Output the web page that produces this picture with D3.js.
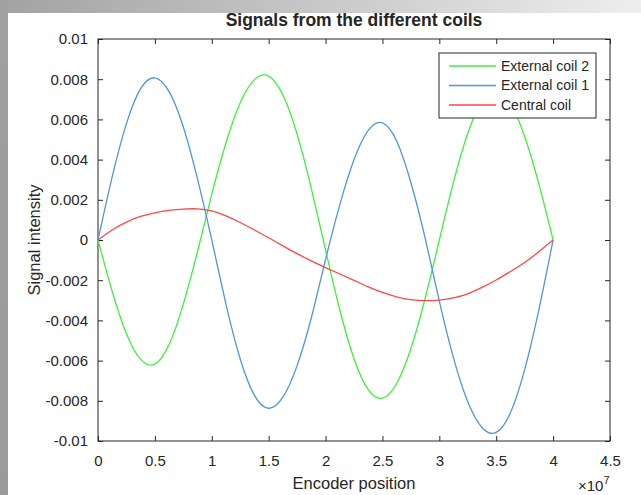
<!DOCTYPE html>
<html lang="en">
<head>
<meta charset="utf-8">
<title>Signals from the different coils</title>
<script src="https://d3js.org/d3.v7.min.js"></script>
<style>
    body { margin: 0; background: #fff; }
    svg text { font-family: "Liberation Sans", Arial, sans-serif; fill: #262626; }
    .frame { fill: none; stroke: #262626; stroke-width: 1; }
    .tick line { stroke: #262626; }
    path.line { fill: none; stroke-width: 1.3; }
</style>
</head>
<body>
<div id="divChart"></div>
<script>

// encoder position, in units of 1e7
const pos = [0, 0.125, 0.25, 0.375, 0.5, 0.625, 0.75, 0.875, 1, 1.125, 1.25, 1.375, 1.5, 1.625, 1.75, 1.875,
             2, 2.125, 2.25, 2.375, 2.5, 2.625, 2.75, 2.875, 3, 3.125, 3.25, 3.375, 3.5, 3.625, 3.75, 3.875, 4];

const ext2 = [0, -0.00256, -0.00466, -0.00594, -0.00617, -0.00520, -0.00319, -0.00056,
              0.00228, 0.00484, 0.00683, 0.00798, 0.00815, 0.00721, 0.00526, 0.00256,
              -0.0005, -0.00347, -0.00591, -0.00745, -0.00787, -0.00714, -0.00540, -0.00291,
              0, 0.00289, 0.00531, 0.00690, 0.0074, 0.00677, 0.00515, 0.00278, 0];

const ext1 = [0, 0.00315, 0.00579, 0.00753, 0.00807, 0.00738, 0.00562, 0.00303,
              0, -0.00320, -0.00592, -0.00773, -0.00837, -0.00782, -0.00625, -0.00387,
              -0.00097, 0.00175, 0.00399, 0.00545, 0.00583, 0.00493, 0.00286, 0.0001,
              -0.00304, -0.00588, -0.00805, -0.00933, -0.00957, -0.00859, -0.00645, -0.00346, 0];

const central = [0, 0.00050, 0.00089, 0.00117, 0.00135, 0.00147, 0.00154, 0.00155,
                 0.00145, 0.00120, 0.00087, 0.00050, 0.00011, -0.00029, -0.00068, -0.00104,
                 -0.00137, -0.00169, -0.00201, -0.00233, -0.00261, -0.00283, -0.00297, -0.00302,
                 -0.00299, -0.00288, -0.00268, -0.00236, -0.00199, -0.00157, -0.00112, -0.00058, 0];

const seriesNames = ["External coil 2", "External coil 1", "Central coil"];
const seriesColors = ["#3cf23c", "#4f97d6", "#ff4646"];

const xTicks = [0, 0.5, 1, 1.5, 2, 2.5, 3, 3.5, 4, 4.5];
const yTicks = [-0.01, -0.008, -0.006, -0.004, -0.002, 0, 0.002, 0.004, 0.006, 0.008, 0.01];

var W = 641, H = 495;
var margin = {top: 39, right: 31, bottom: 54, left: 98};
var width = W - margin.left - margin.right,
    height = H - margin.top - margin.bottom;

var svg = d3.select("#divChart").append("svg")
    .attr("width", W)
    .attr("height", H);

// screenshot edges (grey strips)
var defs = svg.append("defs");
var gTop = defs.append("linearGradient").attr("id", "gTop");
gTop.append("stop").attr("offset", "0%").attr("stop-color", "#a2a2a2");
gTop.append("stop").attr("offset", "100%").attr("stop-color", "#eeeeee");
var gLeft = defs.append("linearGradient").attr("id", "gLeft")
    .attr("x1", 0).attr("y1", 0).attr("x2", 0).attr("y2", 1);
gLeft.append("stop").attr("offset", "0%").attr("stop-color", "#a0a0a0");
gLeft.append("stop").attr("offset", "100%").attr("stop-color", "#9a9a9a");

svg.append("rect").attr("x", 0).attr("y", 0).attr("width", W).attr("height", 13).attr("fill", "url(#gTop)");
svg.append("rect").attr("x", 0).attr("y", 0).attr("width", 8).attr("height", H).attr("fill", "url(#gLeft)");

var g = svg.append("g")
    .attr("transform", "translate(" + margin.left + "," + margin.top + ")");

var x = d3.scaleLinear().domain([0, 4.5]).range([0, width]);
var y = d3.scaleLinear().domain([-0.01, 0.01]).range([height, 0]);

var fmt = d => d === 0 ? "0" : String(+d.toFixed(3));

// axes (ticks inside, like the box style)
g.append("g")
    .attr("transform", "translate(0," + height + ")")
    .call(d3.axisBottom(x).tickValues(xTicks).tickSizeInner(-5).tickSizeOuter(0).tickPadding(14).tickFormat(d => String(d)))
    .call(a => a.select(".domain").remove())
    .call(a => a.selectAll("text").style("font-size", "15px"));

g.append("g")
    .call(d3.axisTop(x).tickValues(xTicks).tickSizeInner(-5).tickSizeOuter(0).tickFormat(""))
    .call(a => a.select(".domain").remove());

g.append("g")
    .call(d3.axisLeft(y).tickValues(yTicks).tickSizeInner(-5).tickSizeOuter(0).tickPadding(10).tickFormat(fmt))
    .call(a => a.select(".domain").remove())
    .call(a => a.selectAll("text").style("font-size", "15px"));

g.append("g")
    .attr("transform", "translate(" + width + ",0)")
    .call(d3.axisRight(y).tickValues(yTicks).tickSizeInner(-5).tickSizeOuter(0).tickFormat(""))
    .call(a => a.select(".domain").remove());

g.append("rect").attr("class", "frame")
    .attr("x", 0).attr("y", 0).attr("width", width).attr("height", height);

// lines
var allSeries = [ext2, ext1, central];
var line = d3.line()
    .x(d => x(d[0]))
    .y(d => y(d[1]))
    .curve(d3.curveNatural);

allSeries.forEach((vals, i) => {
    g.append("path")
        .datum(pos.map((p, j) => [p, vals[j]]))
        .attr("class", "line")
        .style("stroke", seriesColors[i])
        .attr("d", line);
});

// legend
var lg = g.append("g").attr("transform", "translate(341,14)");
lg.append("rect")
    .attr("width", 157).attr("height", 65)
    .attr("fill", "#fff").attr("stroke", "#262626").attr("stroke-width", 1);
seriesNames.forEach((n, i) => {
    var yy = 13 + i * 19.5;
    lg.append("line").attr("x1", 10).attr("x2", 57).attr("y1", yy).attr("y2", yy)
        .attr("stroke", seriesColors[i]).attr("stroke-width", 1.3);
    lg.append("text").attr("x", 62).attr("y", yy).attr("dy", "0.35em")
        .style("font-size", "14px").text(n);
});

// titles
svg.append("text")
    .attr("x", margin.left + width / 2).attr("y", 26)
    .attr("text-anchor", "middle")
    .style("font-size", "17.5px").style("font-weight", "bold")
    .text("Signals from the different coils");

svg.append("text")
    .attr("x", margin.left + width / 2).attr("y", 489)
    .attr("text-anchor", "middle")
    .style("font-size", "16.5px")
    .text("Encoder position");

svg.append("text")
    .attr("transform", "translate(40," + (margin.top + height / 2) + ") rotate(-90)")
    .attr("text-anchor", "middle")
    .style("font-size", "16.5px")
    .text("Signal intensity");

var ex = svg.append("text")
    .attr("x", 578).attr("y", 491)
    .style("font-size", "15px");
ex.append("tspan").text("\u00d710");
ex.append("tspan").attr("dy", -7).style("font-size", "11px").text("7");

</script>
</body>
</html>
